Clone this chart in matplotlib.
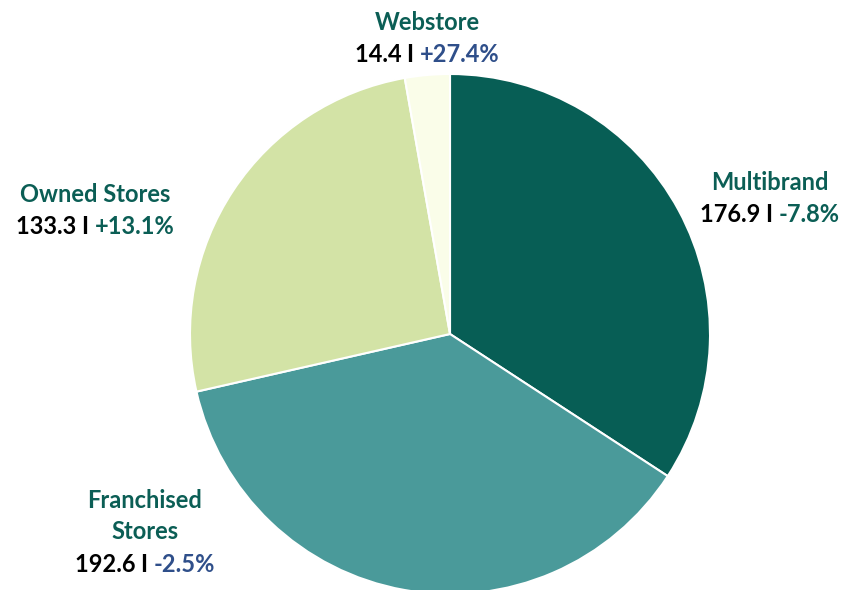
import matplotlib.pyplot as plt

plt.rcParams['font.family'] = ['Lato', 'DejaVu Sans']

segments = ['Multibrand', 'Franchised\nStores', 'Owned Stores', 'Webstore']
values = [176.9, 192.6, 133.3, 14.4]
changes = ['-7.8%', '-2.5%', '+13.1%', '+27.4%']
change_colors = ['#0b5e55', '#2f4f8a', '#0b5e55', '#2f4f8a']
slice_colors = ['#075e55', '#4a9a9a', '#d3e3a6', '#fafde9']

title_col = '#0b5e55'

fig = plt.figure(figsize=(8.43, 5.90), dpi=100)
ax = fig.add_axes([0, 0, 1, 1])

ax.pie(values, colors=slice_colors, startangle=90, counterclock=False,
       center=(450, 256), radius=260, frame=True,
       wedgeprops=dict(linewidth=1.5, edgecolor='white'))
ax.set_xlim(0, 843)
ax.set_ylim(0, 590)
ax.set_aspect('equal')
ax.axis('off')

# label positions (x center, y center of title block, y of value line) in pixels from top
label_pos = [(770, 183, 214), (145, 516, 564), (95, 194, 226), (427, 22, 55)]

fs = 17
fig.canvas.draw()
renderer = fig.canvas.get_renderer()

def px(y):
    return 590 - y

for seg, val, ch, cc, (x, ty, vy) in zip(segments, values, changes, change_colors, label_pos):
    ax.text(x, px(ty), seg, ha='center', va='center', fontsize=fs,
            fontweight='bold', color=title_col, linespacing=1.45)
    pieces = [(f'{val:.1f} ', 'black'), ('I ', 'black'), (ch, cc)]
    texts = [ax.text(0, px(vy), p, ha='left', va='center', fontsize=fs,
                     fontweight='bold', color=c) for p, c in pieces]
    widths = [t.get_window_extent(renderer=renderer).width for t in texts]
    cur = x - sum(widths) / 2
    for t, w in zip(texts, widths):
        t.set_x(cur)
        cur += w

fig.savefig('out.png', dpi=100)
